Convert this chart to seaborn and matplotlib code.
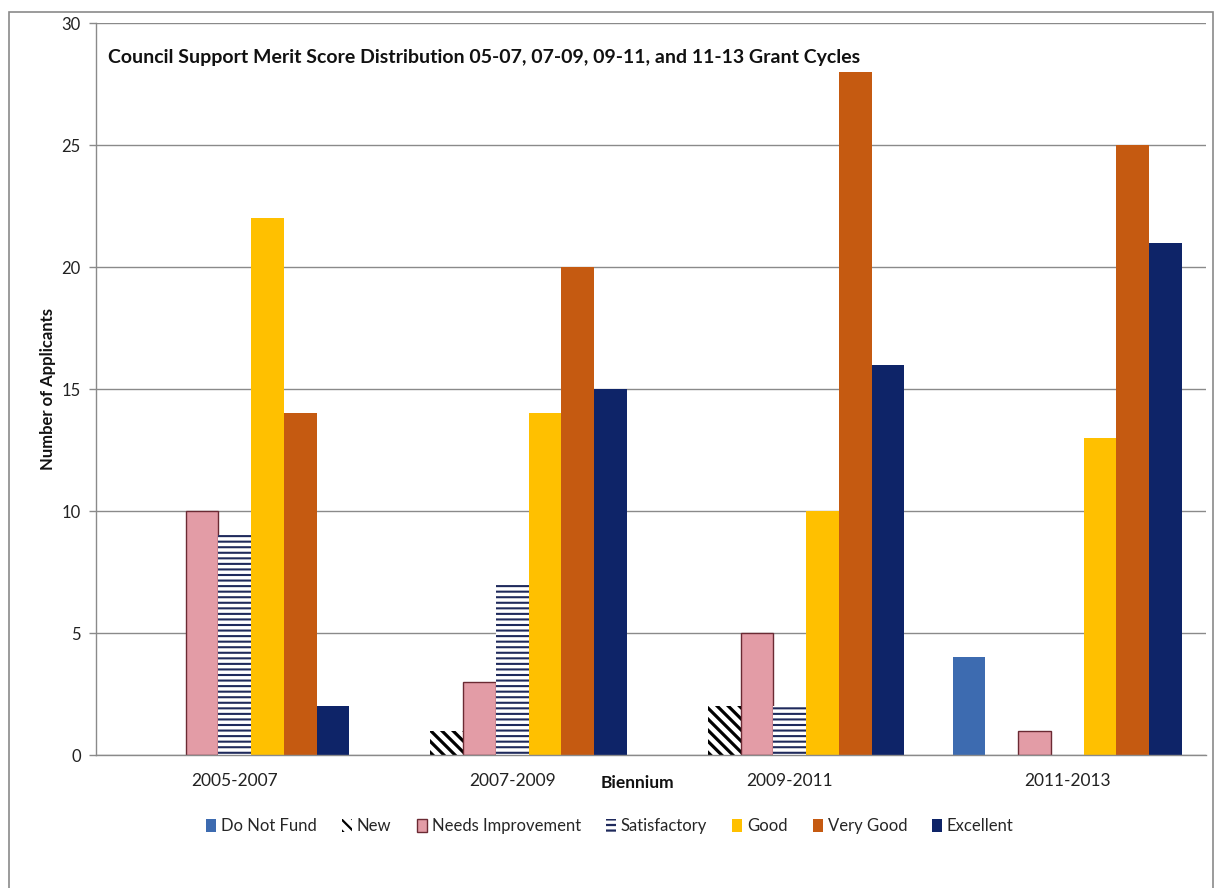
import matplotlib
matplotlib.use("Agg")
import matplotlib.pyplot as plt
from matplotlib.patches import Patch, Rectangle
import seaborn as sns
import pandas as pd

# ---- data ----
biennia = ["2005-2007", "2007-2009", "2009-2011", "2011-2013"]
categories = ["Do Not Fund", "New", "Needs Improvement", "Satisfactory", "Good", "Very Good", "Excellent"]
do_not_fund = [0, 0, 0, 4]
new = [0, 1, 2, 0]
needs_improvement = [10, 3, 5, 1]
satisfactory = [9, 7, 2, 0]
good = [22, 14, 10, 13]
very_good = [14, 20, 28, 25]
excellent = [2, 15, 16, 21]
y_ticks = [0, 5, 10, 15, 20, 25, 30]
title = "Council Support Merit Score Distribution 05-07, 07-09, 09-11, and 11-13 Grant Cycles"

series = [do_not_fund, new, needs_improvement, satisfactory, good, very_good, excellent]
rows = []
for cat, vals in zip(categories, series):
    for b, v in zip(biennia, vals):
        rows.append({"Biennium": b, "Rating": cat, "Count": v})
df = pd.DataFrame(rows)

# ---- styles ----
styles = {
    "Do Not Fund": dict(fc="#3D6BB0", ec="#3D6BB0", hatch=None, lw=0),
    "New": dict(fc="white", ec="black", hatch="\\\\\\", lw=0),
    "Needs Improvement": dict(fc="#E39CA6", ec="#6B2A33", hatch=None, lw=1.0),
    "Satisfactory": dict(fc="white", ec="#1F2A5C", hatch="---", lw=0),
    "Good": dict(fc="#FFC000", ec="#FFC000", hatch=None, lw=0),
    "Very Good": dict(fc="#C55A11", ec="#C55A11", hatch=None, lw=0),
    "Excellent": dict(fc="#0E2468", ec="#0E2468", hatch=None, lw=0),
}

sns.set_theme(style="white")
plt.rcParams["font.family"] = ["Lato", "DejaVu Sans"]
plt.rcParams["hatch.linewidth"] = 1.6

fig = plt.figure(figsize=(12.24, 8.88), dpi=100)
ax = fig.add_axes([96 / 1224, 1 - 755 / 888, 1110 / 1224, 732 / 888])

sns.barplot(data=df, x="Biennium", y="Count", hue="Rating", order=biennia,
            hue_order=categories, width=0.825, ax=ax, legend=False,
            errorbar=None, saturation=1)

for cat, cont in zip(categories, ax.containers):
    st = styles[cat]
    for p in cont:
        p.set_facecolor(st["fc"])
        p.set_edgecolor(st["ec"])
        p.set_linewidth(st["lw"])
        if st["hatch"]:
            p.set_hatch(st["hatch"])
            try:
                p.set_hatch_linewidth(2.3 if cat == "New" else 1.5)
            except Exception:
                pass

ax.set_ylim(0, 30)
ax.set_xlim(-0.5, len(biennia) - 0.5)
ax.set_yticks(y_ticks)
ax.set_yticklabels([str(t) for t in y_ticks], fontsize=12, color="#222222")
ax.yaxis.grid(True, color="#8a8a8a", linewidth=1.0)
ax.set_axisbelow(True)

# x ticks: labels at centers, tick marks at group boundaries
ax.set_xticks(range(len(biennia)))
ax.set_xticklabels(biennia, fontsize=12.5, color="#222222")
ax.set_xticks([i - 0.5 for i in range(len(biennia) + 1)], minor=True)
ax.tick_params(axis="x", which="major", length=0, pad=13)
ax.tick_params(axis="x", which="minor", length=5, width=1, color="#8a8a8a", direction="out")
ax.tick_params(axis="y", which="major", length=5, width=1, color="#8a8a8a", direction="out", left=True, pad=6)

for s in ["top", "right"]:
    ax.spines[s].set_visible(False)
for s in ["left", "bottom"]:
    ax.spines[s].set_color("#8a8a8a")
    ax.spines[s].set_linewidth(1.0)

ax.set_xlabel("Biennium", fontsize=12.5, fontweight="bold", color="#111111")
ax.xaxis.set_label_coords((637 - 96) / 1110, -28 / 732)
ax.xaxis.label.set_verticalalignment("center")
ax.set_ylabel("Number of Applicants", fontsize=12, fontweight="bold", color="#111111")
ax.yaxis.set_label_coords((48 - 96) / 1110, 0.5)
ax.yaxis.label.set_verticalalignment("center")

ax.text(12 / 1110, 1 - 34 / 732, title, transform=ax.transAxes, fontsize=14,
        fontweight="bold", color="#111111", va="center", ha="left")

handles = []
for cat in categories:
    st = styles[cat]
    handles.append(Patch(facecolor=st["fc"], edgecolor=st["ec"], hatch=st["hatch"],
                         linewidth=st["lw"] if st["lw"] else 0, label=cat))
fig.legend(handles=handles, loc="center", bbox_to_anchor=(610 / 1224, 1 - 826 / 888),
           ncol=7, frameon=False, fontsize=12, handlelength=0.6, handleheight=0.8,
           handletextpad=0.3, columnspacing=1.5)

# outer chart border
fig.patches.append(Rectangle((9 / 1224, -0.01), (1213 - 9) / 1224, 1 - 12 / 888 + 0.01,
                             transform=fig.transFigure, fill=False,
                             edgecolor="#8a8a8a", linewidth=1.2))

fig.savefig("out.png", dpi=100, facecolor="white")
